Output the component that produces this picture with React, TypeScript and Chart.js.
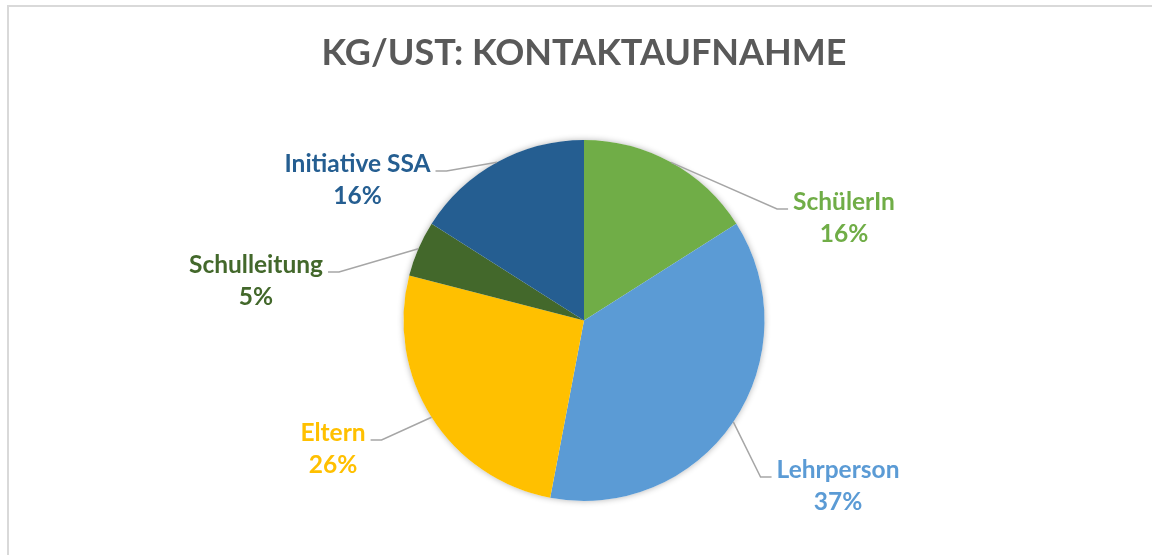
import React, { useEffect, useRef } from "react";
import { Chart, registerables } from "chart.js";

Chart.register(...registerables);

const titleText = "KG/UST: KONTAKTAUFNAHME";
const categories = ["SchülerIn", "Lehrperson", "Eltern", "Schulleitung", "Initiative SSA"];
const values = [16, 37, 26, 5, 16];
const colors = ["#70AD47", "#5B9BD5", "#FFC000", "#43682B", "#255E91"];

// label block offsets (first-line centre relative to pie centre)
const labelOffsets: [number, number][] = [
  [260, -118.5],
  [254, 149.5],
  [-251, 112.5],
  [-328, -55.5],
  [-226.5, -156.5],
];

const FONT = "Lato, 'Open Sans', sans-serif";

const decorPlugin = {
  id: "decor",
  beforeDraw(chart: any) {
    const { ctx, width, height } = chart;
    ctx.save();
    ctx.fillStyle = "#ffffff";
    ctx.fillRect(0, 0, width, height);
    ctx.fillStyle = "#d9d9d9";
    ctx.fillRect(7, 5, 2, height - 5);
    ctx.fillRect(7, 5, width - 7, 2);
    // title
    ctx.fillStyle = "#595959";
    ctx.font = `bold 36px ${FONT}`;
    ctx.textAlign = "center";
    ctx.textBaseline = "middle";
    ctx.fillText(titleText, 584, 53);
    ctx.restore();
  },
  beforeDatasetsDraw(chart: any) {
    const arcs = chart.getDatasetMeta(0).data;
    if (!arcs.length) return;
    const a = arcs[0];
    const { ctx } = chart;
    ctx.save();
    ctx.shadowColor = "rgba(0,0,0,0.3)";
    ctx.shadowBlur = 6;
    ctx.fillStyle = "#ffffff";
    ctx.beginPath();
    ctx.arc(a.x, a.y, a.outerRadius, 0, Math.PI * 2);
    ctx.fill();
    ctx.restore();
  },
  afterDatasetsDraw(chart: any) {
    const { ctx } = chart;
    const arcs = chart.getDatasetMeta(0).data;
    const total = values.reduce((s, v) => s + v, 0);
    ctx.save();
    arcs.forEach((arc: any, i: number) => {
      const mid = (arc.startAngle + arc.endAngle) / 2;
      const ax = arc.x + arc.outerRadius * Math.cos(mid);
      const ay = arc.y + arc.outerRadius * Math.sin(mid);
      const lx = arc.x + labelOffsets[i][0];
      const ly = arc.y + labelOffsets[i][1];
      ctx.font = `bold 24.5px ${FONT}`;
      const w = ctx.measureText(categories[i]).width;
      const right = labelOffsets[i][0] > 0;
      const edge = right ? lx - w / 2 : lx + w / 2;
      const endX = right ? edge - 5 : edge + 5;
      const elbowX = right ? endX - 11 : endX + 11;
      const lineY = ly + 7;
      ctx.strokeStyle = "#a6a6a6";
      ctx.lineWidth = 1.5;
      ctx.beginPath();
      ctx.moveTo(ax, ay);
      ctx.lineTo(elbowX, lineY);
      ctx.lineTo(endX, lineY);
      ctx.stroke();
      ctx.fillStyle = colors[i];
      ctx.textAlign = "center";
      ctx.textBaseline = "middle";
      ctx.fillText(categories[i], lx, ly);
      ctx.fillText(Math.round((values[i] / total) * 100) + "%", lx, ly + 32.5);
    });
    ctx.restore();
  },
};

export default function App() {
  const ref = useRef<HTMLCanvasElement | null>(null);
  useEffect(() => {
    document.body.style.margin = "0";
    if (!ref.current) return;
    const chart = new Chart(ref.current, {
      type: "pie",
      data: {
        labels: categories,
        datasets: [
          {
            data: values,
            backgroundColor: colors,
            borderWidth: 0,
          },
        ],
      },
      options: {
        responsive: false,
        animation: false,
        layout: { padding: { left: 403.5, right: 387.5, top: 140, bottom: 54 } },
        plugins: {
          legend: { display: false },
          title: { display: false },
          tooltip: { enabled: false },
        },
      },
      plugins: [decorPlugin],
    });
    return () => chart.destroy();
  }, []);
  return (
    <div style={{ position: "absolute", left: 0, top: 0, width: 1152, height: 555 }}>
      <canvas ref={ref} width={1152} height={555} />
    </div>
  );
}
